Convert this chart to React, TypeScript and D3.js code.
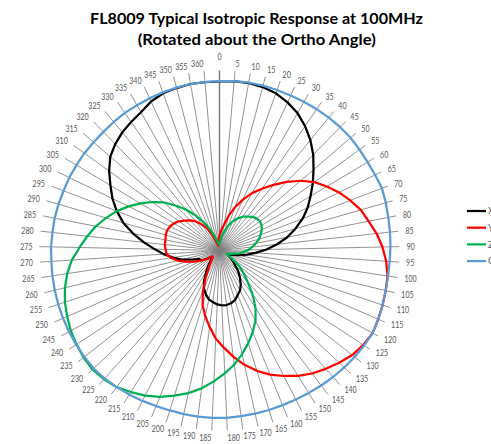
import * as d3 from "d3";

// category labels (degrees) - 73 categories, Excel radar style
const angles = [
  0, 5, 10, 15, 20, 25, 30, 35, 40, 45, 50, 55, 60, 65, 70, 75, 80, 85, 90, 95,
  100, 105, 110, 115, 120, 125, 130, 135, 140, 145, 150, 155, 160, 165, 170,
  175, 180, 185, 190, 195, 200, 205, 210, 215, 220, 225, 230, 235, 240, 245,
  250, 255, 260, 265, 270, 275, 280, 285, 290, 295, 300, 305, 310, 315, 320,
  325, 330, 335, 340, 345, 350, 355, 360,
];

const xValues = [
  1.69, 1.7, 1.7, 1.69, 1.67, 1.63, 1.58, 1.51, 1.43, 1.34, 1.24, 1.15, 1.06,
  0.98, 0.89, 0.79, 0.69, 0.58, 0.47, 0.36, 0.28, 0.2, 0.14, 0.1, 0.1, 0.13,
  0.17, 0.21, 0.28, 0.34, 0.4, 0.45, 0.48, 0.52, 0.54, 0.55, 0.55, 0.54, 0.52,
  0.5, 0.46, 0.41, 0.34, 0.25, 0.18, 0.13, 0.1, 0.1, 0.15, 0.21, 0.22, 0.29,
  0.39, 0.47, 0.56, 0.65, 0.76, 0.88, 1.0, 1.1, 1.19, 1.27, 1.36, 1.44, 1.49,
  1.53, 1.56, 1.59, 1.64, 1.67, 1.68, 1.69, 1.69,
];

const yValues = [
  0.15, 0.2, 0.26, 0.36, 0.46, 0.56, 0.66, 0.75, 0.85, 0.96, 1.07, 1.17, 1.25,
  1.33, 1.4, 1.47, 1.52, 1.58, 1.63, 1.67, 1.7, 1.71, 1.72, 1.73, 1.74, 1.72,
  1.69, 1.64, 1.59, 1.54, 1.48, 1.41, 1.34, 1.26, 1.17, 1.07, 0.97, 0.88, 0.77,
  0.67, 0.57, 0.44, 0.3, 0.2, 0.14, 0.11, 0.09, 0.1, 0.16, 0.22, 0.28, 0.35,
  0.43, 0.49, 0.53, 0.54, 0.55, 0.55, 0.56, 0.56, 0.55, 0.53, 0.5, 0.46, 0.42,
  0.38, 0.32, 0.26, 0.17, 0.08, 0.05, 0.08, 0.11,
];

const zValues = [
  0.07, 0.1, 0.15, 0.2, 0.27, 0.32, 0.37, 0.41, 0.44, 0.47, 0.49, 0.5, 0.49,
  0.47, 0.44, 0.41, 0.37, 0.33, 0.29, 0.24, 0.19, 0.14, 0.1, 0.08, 0.09, 0.15,
  0.25, 0.33, 0.42, 0.55, 0.68, 0.79, 0.88, 0.97, 1.06, 1.15, 1.23, 1.31, 1.39,
  1.46, 1.52, 1.58, 1.63, 1.67, 1.71, 1.73, 1.74, 1.73, 1.71, 1.69, 1.66, 1.63,
  1.59, 1.54, 1.48, 1.4, 1.33, 1.26, 1.18, 1.1, 1.01, 0.92, 0.83, 0.74, 0.63,
  0.53, 0.43, 0.33, 0.24, 0.16, 0.1, 0.07, 0.06,
];

const compositeValues = [
  1.695, 1.7, 1.705, 1.705, 1.705, 1.705, 1.71, 1.715, 1.72, 1.725, 1.73,
  1.725, 1.725, 1.73, 1.74, 1.73, 1.72, 1.715, 1.71, 1.705, 1.705, 1.71, 1.72,
  1.73, 1.74, 1.73, 1.72, 1.71, 1.7, 1.69, 1.68, 1.675, 1.67, 1.67, 1.67, 1.67,
  1.675, 1.675, 1.675, 1.675, 1.675, 1.68, 1.69, 1.7, 1.71, 1.72, 1.725, 1.72,
  1.715, 1.71, 1.705, 1.7, 1.695, 1.69, 1.685, 1.685, 1.68, 1.68, 1.675, 1.67,
  1.67, 1.665, 1.665, 1.66, 1.66, 1.665, 1.67, 1.67, 1.675, 1.68, 1.685, 1.69,
  1.69,
];

const seriesNames = ["X", "Y", "Z", "Composite"];
const seriesColors = ["#000000", "#FF0000", "#00B050", "#5B9BD5"];
const seriesData = [xValues, yValues, zValues, compositeValues];

const titleLines = [
  "FL8009 Typical Isotropic Response at 100MHz",
  "(Rotated about the Ortho Angle)",
];

export default function App() {
  const width = 491;
  const height = 444;
  const cx = 219.5;
  const cy = 250.5;
  const R = 180;
  const font = "Lato, 'Liberation Sans', Arial, sans-serif";

  const r = d3.scaleLinear().domain([0, 1.8]).range([0, R]);
  const a = d3
    .scaleLinear()
    .domain([0, angles.length])
    .range([0, 2 * Math.PI]);

  const line = d3
    .lineRadial<number>()
    .angle((_, i) => a(i))
    .radius((d) => r(d))
    .curve(d3.curveLinearClosed);

  return (
    <svg
      width={width}
      height={height}
      style={{ position: "absolute", left: 0, top: 0, background: "#fff" }}
    >
      <g fontFamily={font} fontWeight="bold" fill="#000" textAnchor="middle">
        <text x={256.5} y={24} fontSize={16} textLength={333} lengthAdjust="spacingAndGlyphs">
          {titleLines[0]}
        </text>
        <text x={256.8} y={45} fontSize={16} textLength={238} lengthAdjust="spacingAndGlyphs">
          {titleLines[1]}
        </text>
      </g>

      <g transform={`translate(${cx},${cy})`}>
        {angles.map((lab, i) => {
          const t = a(i);
          const s = Math.sin(t);
          const c = Math.cos(t);
          return (
            <line
              key={"s" + i}
              x1={0}
              y1={0}
              x2={R * s}
              y2={-R * c}
              stroke={i === 0 ? "#7a7a7a" : "#7f7f7f"}
              strokeWidth={i === 0 ? 1.5 : 0.85}
            />
          );
        })}

        {angles.map((lab, i) => {
          const t = a(i);
          const s = Math.sin(t);
          const c = Math.cos(t);
          const txt = String(lab);
          const w = txt.length * 4.1;
          const ax = (R + 7) * s;
          let ay = -(R + 7) * c;
          let anchor = "middle";
          if (s > 0.01) anchor = "start";
          else if (s < -0.01) anchor = "end";
          else ay -= 6.5;
          return (
            <text
              key={"l" + i}
              x={ax}
              y={ay}
              dy="0.36em"
              textAnchor={anchor}
              fontFamily={font}
              fontSize={9}
              fill="#595959"
              textLength={w}
              lengthAdjust="spacingAndGlyphs"
            >
              {txt}
            </text>
          );
        })}

        {seriesData.map((vals, k) => (
          <path
            key={"p" + k}
            d={line(vals) || ""}
            fill="none"
            stroke={seriesColors[k]}
            strokeWidth={2.25}
            strokeLinejoin="round"
          />
        ))}
      </g>

      {/* legend runs off the right edge, as in the source image */}
      <g fontFamily={font} fontSize={9} fill="#595959">
        {seriesNames.map((name, k) => {
          const y = 211 + k * 16.7;
          return (
            <g key={"lg" + k}>
              <line x1={467} x2={486} y1={y} y2={y} stroke={seriesColors[k]} strokeWidth={2.25} />
              <text x={488} y={y} dy="0.36em">
                {name}
              </text>
            </g>
          );
        })}
      </g>
    </svg>
  );
}
